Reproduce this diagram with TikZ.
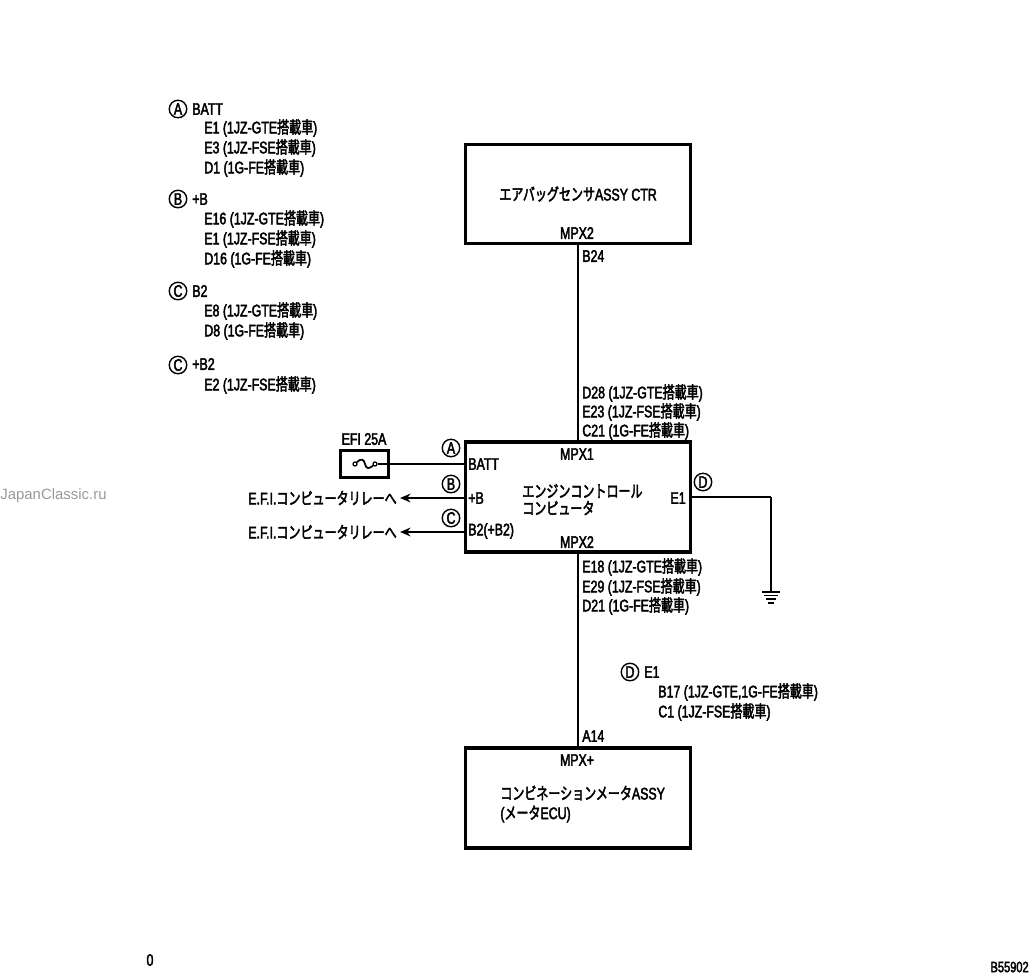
\documentclass[tikz,border=0pt]{standalone}
\usepackage{fontspec}
\setmainfont{Liberation Sans}[FakeStretch=0.74,FakeBold=2.5]
\newfontfamily\jpfont{Noto Sans CJK JP}[FakeStretch=0.72,FakeBold=2.5]
\newfontfamily\wmfont{Liberation Sans}
\newcommand{\jp}[1]{{\jpfont #1}}
\newcommand{\tosai}{\jp{搭載車}}
\usetikzlibrary{arrows.meta}
\tikzset{
	unitbox/.style={draw, line width=2.1pt, minimum width=4.5cm, inner sep=0pt},
	fusebox/.style={draw, line width=1.9pt, minimum width=0.97cm, minimum height=0.55cm, inner sep=0pt},
	fusepin/.style={draw, circle, line width=0.7pt, minimum size=0.08cm, inner sep=0pt},
	circ/.style={draw, circle, line width=0.8pt, minimum size=0.35cm, inner sep=0pt, font=\fontsize{9.5}{10}\selectfont},
	lbl/.style={anchor=west, inner sep=0pt, font=\fontsize{9.5}{10}\selectfont},
	lblr/.style={lbl, anchor=east},
	lblc/.style={lbl, anchor=center},
	wire/.style={line width=0.6pt},
	hvwire/.style={line width=1.5pt},
	sig/.style={line width=0.9pt, -{Stealth[length=6pt,width=5pt]}}
}
\begin{document}
\begin{tikzpicture}[x=0.02cm, y=-0.02cm]
	\useasboundingbox (0,0) rectangle (1033,975);
	% units
	\node[unitbox, minimum height=1.98cm] (airbag) at (578,194) {};
	\node[unitbox, minimum height=2.2cm] (engine) at (578,497) {};
	\node[unitbox, minimum height=2cm] (meter) at (578,798) {};
	\node[fusebox] (fuse) at (364.5,464) {};
	% fuse symbol
	\node[fusepin] (fuseL) at (355,464) {};
	\node[fusepin] (fuseR) at (375,464) {};
	\draw[line width=1pt] (fuseL) .. controls (361,458) and (364,459) .. (365,464) .. controls (366,469) and (369,469) .. (fuseR);
	% wires
	\draw[wire] (airbag.south) -- (engine.north);
	\draw[wire] (engine.south) -- (meter.north);
	\coordinate (battin) at (engine.west |- fuseR);
	\draw[line width=0.9pt] (fuseR) -- (battin);
	\coordinate (bend) at (400,498);
	\coordinate (btwoend) at (400,532);
	\draw[sig] (engine.west |- bend) -- (bend);
	\draw[sig] (engine.west |- btwoend) -- (btwoend);
	% earth
	\coordinate (eout) at (engine.east |- 0,497);
	\coordinate (ecorner) at (771,497);
	\coordinate (eearth) at (771,592);
	\draw[hvwire] (eout) -- (ecorner);
	\draw[line width=0.7pt] (ecorner) -- (eearth);
	\draw[line width=1.1pt] (762,592) -- (780,592);
	\draw[line width=1pt] (764,595.5) -- (778,595.5);
	\draw[line width=1pt] (766,599) -- (776,599);
	\draw[line width=1pt] (768,603) -- (774,603);
	% circled marks
	\node[circ] (marka) at (451,448) {A};
	\node[circ] (markb) at (451,484) {B};
	\node[circ] (markc) at (451,518) {C};
	\node[circ] (markd) at (703,482) {D};
	\node[circ] (lega) at (178,109) {A};
	\node[circ] (legb) at (178,199) {B};
	\node[circ] (legc) at (178,291) {C};
	\node[circ] (legcc) at (178,365) {C};
	\node[circ] (legd) at (630,672) {D};
	% legend
	\node[lbl] (ta) at (192,109) {BATT};
	\node[lbl] (ta1) at (204,128) {E1 (1JZ-GTE\tosai)};
	\node[lbl] (ta2) at (204,148) {E3 (1JZ-FSE\tosai)};
	\node[lbl] (ta3) at (204,168) {D1 (1G-FE\tosai)};
	\node[lbl] (tb) at (192,199) {+B};
	\node[lbl] (tb1) at (204,219) {E16 (1JZ-GTE\tosai)};
	\node[lbl] (tb2) at (204,239) {E1 (1JZ-FSE\tosai)};
	\node[lbl] (tb3) at (204,259) {D16 (1G-FE\tosai)};
	\node[lbl] (tc) at (192,291) {B2};
	\node[lbl] (tc1) at (204,311) {E8 (1JZ-GTE\tosai)};
	\node[lbl] (tc2) at (204,331) {D8 (1G-FE\tosai)};
	\node[lbl] (tcc) at (192,364) {+B2};
	\node[lbl] (tcc1) at (204,385) {E2 (1JZ-FSE\tosai)};
	\node[lbl] (td) at (644,672) {E1};
	\node[lbl] (td1) at (658,692) {B17 (1JZ-GTE,1G-FE\tosai)};
	\node[lbl] (td2) at (658,712) {C1 (1JZ-FSE\tosai)};
	% unit texts
	\node[lbl] (airbagname) at (499,194) {\jp{エアバッグセンサ}ASSY CTR};
	\node[lblc] (mpxa) at (577,233) {MPX2};
	\node[lbl] (bb) at (582,256) {B24};
	\node[lbl] (up1) at (582,393) {D28 (1JZ-GTE\tosai)};
	\node[lbl] (up2) at (582,412) {E23 (1JZ-FSE\tosai)};
	\node[lbl] (up3) at (582,431) {C21 (1G-FE\tosai)};
	\node[lblc] (mpxb) at (577,454) {MPX1};
	\node[lbl] (batt) at (468,464) {BATT};
	\node[lbl] (plusb) at (468,498) {+B};
	\node[lbl] (btwo) at (468,531) {B2(+B2)};
	\node[lblr] (eone) at (686,498) {E1};
	\node[lbl] (enga) at (522,491) {\jp{エンジンコントロール}};
	\node[lbl] (engb) at (522,508) {\jp{コンピュータ}};
	\node[lblc] (mpxc) at (577,542) {MPX2};
	\node[lbl] (dn1) at (582,567) {E18 (1JZ-GTE\tosai)};
	\node[lbl] (dn2) at (582,587) {E29 (1JZ-FSE\tosai)};
	\node[lbl] (dn3) at (582,606) {D21 (1G-FE\tosai)};
	\node[lbl] (aa) at (582,736) {A14};
	\node[lblc] (mpxd) at (577,760) {MPX+};
	\node[lbl] (metera) at (500,793) {\jp{コンビネーションメータ}ASSY};
	\node[lbl] (meterb) at (500,814) {(\jp{メータ}ECU)};
	\node[lblc] (efi) at (364,439) {EFI 25A};
	\node[lblr] (rela) at (397,498) {E.F.I.\jp{コンピュータリレーへ}};
	\node[lblr] (relb) at (397,532) {E.F.I.\jp{コンピュータリレーへ}};
	% page marks
	\node[lbl, font=\wmfont\fontsize{8.5}{9}\selectfont, text=black!40] (wm) at (0,496) {JapanClassic.ru};
	\node[lblc] (zero) at (150,960) {0};
	\node[lblr, font=\fontsize{8.5}{9}\selectfont] (code) at (1029,967) {B55902};
\end{tikzpicture}
\end{document}
